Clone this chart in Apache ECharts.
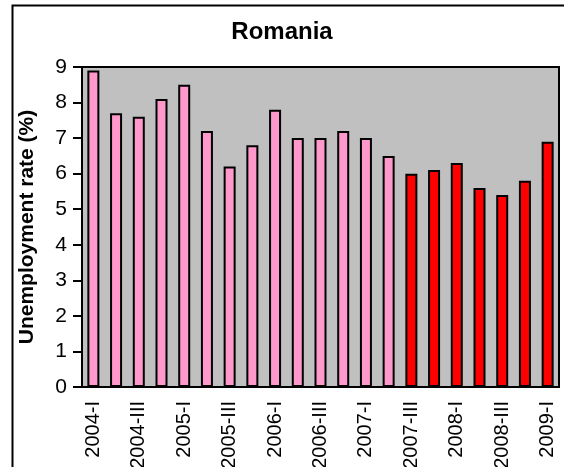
<!DOCTYPE html>
<html>
<head>
<meta charset="utf-8">
<script src="https://cdn.jsdelivr.net/npm/echarts@6/dist/echarts.min.js"></script>
<style>
  html, body { margin: 0; padding: 0; background: #fff; }
  #chart { width: 564px; height: 467px; }
</style>
</head>
<body>
<div id="chart"></div>
<script>
// Quarterly unemployment rate, Romania
const quarters = [
  '2004-I', '2004-II', '2004-III', '2004-IV',
  '2005-I', '2005-II', '2005-III', '2005-IV',
  '2006-I', '2006-II', '2006-III', '2006-IV',
  '2007-I', '2007-II', '2007-III', '2007-IV',
  '2008-I', '2008-II', '2008-III', '2008-IV',
  '2009-I'
];
const rates = [
  8.9, 7.7, 7.6, 8.1,
  8.5, 7.2, 6.2, 6.8,
  7.8, 7.0, 7.0, 7.2,
  7.0, 6.5, 6.0, 6.1,
  6.3, 5.6, 5.4, 5.8,
  6.9
];
// From this quarter on the bars are drawn in the second colour
const highlightFrom = '2007-III';
const yTicks = [0, 1, 2, 3, 4, 5, 6, 7, 8, 9];

const FONT = '"Liberation Sans", Arial, Helvetica, sans-serif';
const splitIdx = quarters.indexOf(highlightFrom);

const chart = echarts.init(document.getElementById('chart'), null, { renderer: 'canvas' });
chart.setOption({
  animation: false,
  backgroundColor: '#ffffff',
  title: {
    text: 'Romania',
    left: 'center',
    top: 20,
    padding: 0,
    textStyle: { fontFamily: FONT, fontSize: 24, fontWeight: 'bold', color: '#000' }
  },
  graphic: [{
    type: 'rect',
    left: 10, top: 3,
    shape: { width: 600, height: 520 },
    style: { fill: 'none', stroke: '#000', lineWidth: 2 },
    silent: true, z: 100
  }],
  grid: {
    left: 82, top: 67, right: 5, bottom: 80,
    containLabel: false,
    outerBoundsMode: 'none',
    show: true,
    backgroundColor: '#C0C0C0',
    borderColor: '#000',
    borderWidth: 2
  },
  xAxis: {
    type: 'category',
    data: quarters,
    boundaryGap: true,
    axisLine: { lineStyle: { color: '#000', width: 2 } },
    axisTick: { interval: 0, length: 6, lineStyle: { color: '#000', width: 2 } },
    axisLabel: {
      interval: 1,
      rotate: 90,
      margin: 14,
      fontFamily: FONT,
      fontSize: 20,
      color: '#000'
    },
    splitLine: { show: false }
  },
  yAxis: {
    type: 'value',
    min: yTicks[0],
    max: yTicks[yTicks.length - 1],
    interval: 1,
    name: 'Unemployment rate (%)',
    nameLocation: 'middle',
    nameGap: 44,
    nameTextStyle: { fontFamily: FONT, fontSize: 21, fontWeight: 'bold', color: '#000' },
    axisLine: { show: true, lineStyle: { color: '#000', width: 2 } },
    axisTick: { show: true, length: 9, lineStyle: { color: '#000', width: 2 } },
    axisLabel: { margin: 15, fontFamily: FONT, fontSize: 21, color: '#000' },
    splitLine: { show: false }
  },
  series: [{
    type: 'bar',
    barWidth: 12,
    data: rates.map((v, i) => ({
      value: v,
      itemStyle: { color: i >= splitIdx ? '#FF0000' : '#FF99CC' }
    })),
    itemStyle: { borderColor: '#000', borderWidth: 2 }
  }]
});
</script>
</body>
</html>
